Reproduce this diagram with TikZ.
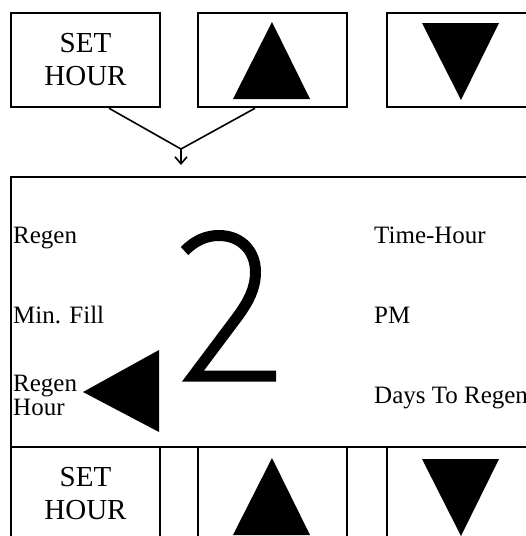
\documentclass[tikz,border=0pt]{standalone}
\usepackage{fontspec}
\setmainfont{Liberation Serif}
\usetikzlibrary{arrows.meta,calc}
\tikzset{
  btn/.style={draw, line width=2pt, minimum width=149pt, minimum height=94.5pt, inner sep=0pt, align=center, font=\fontsize{29}{33}\selectfont},
  lbl/.style={anchor=base west, inner sep=0pt, font=\fontsize{25}{28}\selectfont},
  conn/.style={line width=1.6pt},
  glyph/.style={fill=black},
}
\begin{document}
\begin{tikzpicture}[x=1pt,y=-1pt]
\useasboundingbox (0,0) rectangle (526,536);
% top row
\node[btn] (set1) at (85.5,60) {SET\\HOUR};
\node[btn] (up1) at (272.5,60) {};
\node[btn] (dn1) at (461,60) {};
\fill[glyph] (272,22) -- (310,99) -- (233,99) -- cycle;
\fill[glyph] (422,23) -- (499,23) -- (461,100) -- cycle;
% connectors
\coordinate (j) at (181,149);
\coordinate (jend) at (181,165);
\draw[conn] ([xshift=23.5pt]set1.south) -- (j);
\draw[conn] ([xshift=-17.5pt]up1.south) -- (j);
\draw[conn,-{Straight Barb[length=7pt,width=12pt]}] (j) -- (jend);
% main display
\node[draw, line width=2pt, minimum width=540pt, minimum height=270pt, inner sep=0pt] (main) at (281,312) {};
\node[lbl] (regen) at (13,243) {Regen};
\node[lbl] (minfill) at (13,323) {Min. Fill};
\node[lbl] (regen2) at (13,391) {Regen};
\node[lbl] (hour) at (13,415) {Hour};
\node[lbl] (timehour) at (374,243) {Time-Hour};
\node[lbl] (pm) at (374,323) {PM};
\node[lbl] (days) at (374,403) {Days To Regen};
\fill[glyph] (83,392) -- (159,350) -- (159,432) -- cycle;
% big digit 2
\draw[line width=11pt, line join=miter, miter limit=10]
  (184.5,251) .. controls (195,240.5) and (206,235.5) .. (219,235.5)
  .. controls (241,235.5) and (255.5,251) .. (255.5,272)
  .. controls (255.5,289) and (248,302) .. (238,316)
  -- (193,376) -- (276,376);
% bottom row
\node[btn] (set2) at (85.5,494) {SET\\HOUR};
\node[btn] (up2) at (272.5,494) {};
\node[btn] (dn2) at (461,494) {};
\fill[glyph] (272,458) -- (310,535) -- (233,535) -- cycle;
\fill[glyph] (422,459) -- (499,459) -- (461,536) -- cycle;
\end{tikzpicture}
\end{document}
